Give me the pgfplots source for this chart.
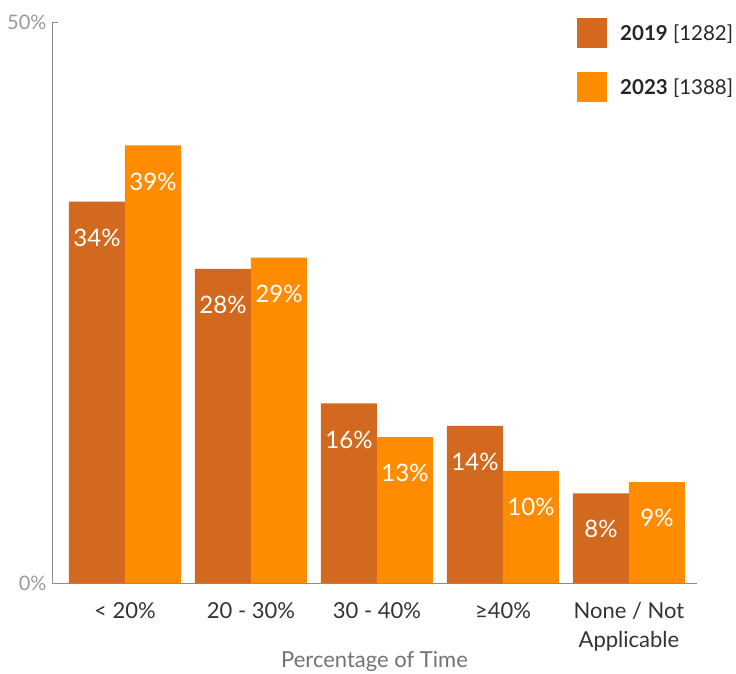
\documentclass[border=0pt]{standalone}
\usepackage{fontspec}
\setmainfont{Lato}
\usepackage{pgfplots}
\pgfplotsset{compat=1.18}
\definecolor{c2019}{HTML}{D2691E}
\definecolor{c2023}{HTML}{FF8C00}
\definecolor{axgray}{HTML}{8C8C8C}
\begin{document}
\begin{tikzpicture}
\useasboundingbox (0pt,0pt) rectangle (736pt,-673pt);
\begin{axis}[
  at={(52pt,-583pt)}, anchor=south west,
  scale only axis, width=645pt, height=561pt,
  xmin=-0.579, xmax=4.54, ymin=0, ymax=50,
  axis x line=bottom, axis y line=left,
  axis line style={axgray, line width=1pt, -},
  ybar=0pt, bar width=56pt,
  /pgf/number format/assume math mode=true,
  xtick=data,
  xticklabels={{< 20\%},{20 - 30\%},{30 - 40\%},{≥40\%},{None / Not\\Applicable}},
  xticklabel style={align=center, font=\fontsize{22}{29}\selectfont, text=black!80, yshift=-16pt},
  major x tick style={draw=none},
  ytick={0,50}, yticklabels={0\%,50\%},
  yticklabel style={font=\fontsize{20}{22}\selectfont, text=black!40, xshift=-2pt},
  major y tick style={axgray, line width=1pt},
  tick align=inside, major tick length=6pt,
  xlabel={Percentage of Time},
  xlabel style={font=\fontsize{22}{26}\selectfont, text=black!55, yshift=7pt},
  nodes near coords={\pgfmathprintnumber{\pgfplotspointmeta}\%},
  nodes near coords style={anchor=center, yshift=-36pt, text=white, font=\fontsize{24}{26}\selectfont},
  legend style={at={(0.814,1.007)}, anchor=north west, draw=none, fill=none, inner sep=0pt,
    row sep=24pt, column sep=0pt, font=\fontsize{20.5}{22}\selectfont,
    nodes={inner sep=0pt, text=black!85}},
  legend image code/.code={\fill[#1] (0pt,-15pt) rectangle (30pt,15pt); \path (43pt,0pt);},
  legend cell align=left,
]
\addplot[fill=c2019, draw=none] coordinates {(0,34) (1,28) (2,16) (3,14) (4,8)};
\addplot[fill=c2023, draw=none] coordinates {(0,39) (1,29) (2,13) (3,10) (4,9)};
\legend{{\textbf{2019} [1282]},{\textbf{2023} [1388]}}
\end{axis}
\end{tikzpicture}
\end{document}
